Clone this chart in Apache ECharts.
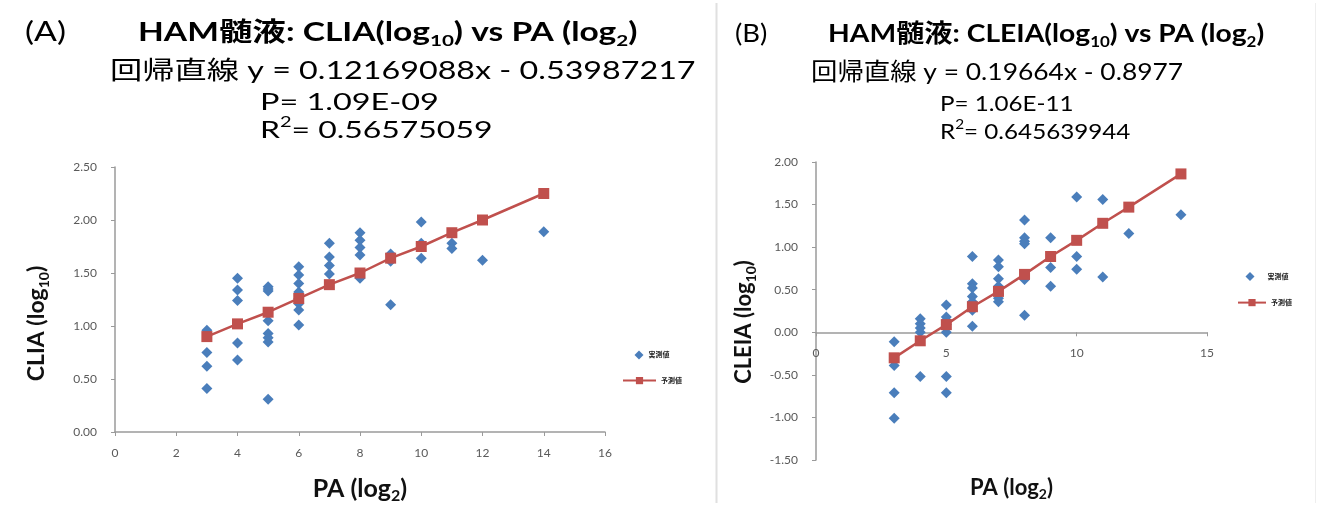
<!DOCTYPE html>
<html><head><meta charset="utf-8">
<script src="https://cdn.jsdelivr.net/npm/echarts@6/dist/echarts.min.js"></script>
<style>html,body{margin:0;padding:0;background:#fff}#c{width:1317px;height:506px}</style>
</head><body><div id="c"></div>
<script>
// ---- Chart A: CLIA (log10) vs PA (log2)
const paA = [3,3,3,3, 4,4,4,4,4, 5,5,5,5,5,5,5,5, 6,6,6,6,6,6,6,6, 7,7,7,7, 8,8,8,8,8, 9,9,9, 10,10,10, 11,11, 12, 14];
const cliaActual = [0.96,0.75,0.62,0.41, 1.45,1.34,1.24,0.84,0.68, 1.37,1.35,1.33,1.05,0.93,0.89,0.85,0.31, 1.56,1.48,1.40,1.32,1.26,1.21,1.15,1.01, 1.78,1.65,1.57,1.49, 1.88,1.81,1.74,1.67,1.45, 1.68,1.61,1.20, 1.98,1.78,1.64, 1.78,1.73, 1.62, 1.89];
const paPredA = [3,4,5,6,7,8,9,10,11,12,14];
const cliaPred = [0.90,1.02,1.13,1.26,1.39,1.50,1.64,1.75,1.88,2.00,2.25];
// ---- Chart B: CLEIA (log10) vs PA (log2)
const paB = [3,3,3,3, 4,4,4,4,4, 5,5,5,5,5,5,5, 6,6,6,6,6,6,6, 7,7,7,7,7,7,7, 8,8,8,8,8,8, 9,9,9, 10,10,10, 11,11, 12, 14];
const cleiaActual = [-0.11,-0.39,-0.71,-1.01, 0.16,0.10,0.05,0.00,-0.52, 0.32,0.18,0.14,0.09,0.00,-0.52,-0.71, 0.89,0.57,0.52,0.42,0.36,0.26,0.07, 0.85,0.77,0.63,0.54,0.45,0.40,0.36, 1.32,1.11,1.07,1.04,0.62,0.20, 1.11,0.76,0.54, 1.59,0.89,0.74, 1.56,0.65, 1.16, 1.38];
const paPredB = [3,4,5,6,7,8,9,10,11,12,14];
const cleiaPred = [-0.30,-0.10,0.09,0.30,0.48,0.68,0.89,1.08,1.28,1.47,1.86];
// ---- labels
const nameActual = '実測値';
const namePred = '予測値';

const FONT = "Lato, 'Noto Sans CJK JP', sans-serif";
const BLUE = '#4A7EBB';
const RED = '#C0504D';
const AXC = '#9A9A9A';
const LBL = '#595959';

const zip = (xs, ys) => xs.map((x, i) => [x, ys[i]]);

const chart = echarts.init(document.getElementById('c'), null, {renderer: 'canvas'});

function valAxis(gi, min, max, interval, fmt, margin, extra) {
  return Object.assign({
    type: 'value', gridIndex: gi, min, max, interval,
    axisLine: {show: true, onZero: false, lineStyle: {color: AXC, width: 1.5}},
    axisTick: {show: true, length: 4, lineStyle: {color: AXC}},
    splitLine: {show: false},
    axisLabel: {color: LBL, fontFamily: FONT, fontSize: 12, formatter: fmt, margin}
  }, extra || {});
}
const f2 = v => v.toFixed(2);
const f0 = v => String(v);

function nameRich(size) {
  return {
    b: {fontFamily: FONT, fontSize: size, fontWeight: 'bold', color: '#111', lineHeight: size * 1.25},
    s: {fontFamily: FONT, fontSize: Math.round(size * 0.62), fontWeight: 'bold', color: '#111', lineHeight: Math.round(size * 0.62), verticalAlign: 'bottom'}
  };
}
function titleRich(size, subSize) {
  return {
    t: {fontFamily: FONT, fontSize: size, fontWeight: 'bold', color: '#000', lineHeight: size * 1.25},
    s: {fontFamily: FONT, fontSize: subSize, fontWeight: 'bold', color: '#000', lineHeight: subSize * 1.05, verticalAlign: 'bottom'}
  };
}
function supRich(size, supSize) {
  return {
    a: {fontFamily: FONT, fontSize: size, color: '#000', lineHeight: size * 1.3},
    p: {fontFamily: FONT, fontSize: supSize, color: '#000', lineHeight: supSize * 1.2, verticalAlign: 'top'}
  };
}
function stx(x, y, text, size, weight, sx, rich) {
  return {type: 'text', x, y, scaleX: sx, z: 10,
    style: {text, fill: '#000', font: (weight || 'normal') + ' ' + size + 'px ' + FONT, verticalAlign: 'middle', align: 'left', rich}};
}

const legText = {fontFamily: FONT, fontSize: 7, color: '#222', fontWeight: 'bold'};

// right panel: the horizontal axis sits at y = 0 of the vertical axis
const gridB = {left: 816, top: 162, width: 391, height: 298};
const bMin = -1.5, bMax = 2;
const zeroOffsetB = -gridB.height * (0 - bMin) / (bMax - bMin);

const option = {
  backgroundColor: '#fff',
  animation: false,
  grid: [
    {left: 115, top: 167, width: 490, height: 265, outerBoundsMode: 'none'},
    Object.assign({outerBoundsMode: 'none'}, gridB)
  ],
  xAxis: [
    valAxis(0, 0, 16, 2, f0, 15, {nameLocation: 'middle', nameGap: 41,
      name: '{b|PA (log}{s|2}{b|)}', nameTextStyle: {rich: nameRich(25)}}),
    valAxis(1, 0, 15, 5, f0, 15, {offset: zeroOffsetB, nameLocation: 'middle', nameGap: 142,
      name: '{b|PA (log}{s|2}{b|)}', nameTextStyle: {rich: nameRich(22)}})
  ],
  yAxis: [
    valAxis(0, 0, 2.5, 0.5, f2, 18, {name: '{b|CLIA (log}{s|10}{b|)}', nameLocation: 'middle', nameGap: 64, nameRotate: 90,
      nameTextStyle: {rich: nameRich(23), padding: [0, 48, 0, 0]}}),
    valAxis(1, bMin, bMax, 0.5, f2, 18, {name: '{b|CLEIA (log}{s|10}{b|)}', nameLocation: 'middle', nameGap: 58, nameRotate: 90,
      nameTextStyle: {rich: nameRich(22), padding: [0, 22, 0, 0]}})
  ],
  legend: [
    {data: [nameActual], left: 634.5, top: 350.5, padding: 0, itemWidth: 9, itemHeight: 9, textStyle: legText, selectedMode: false},
    {data: [namePred], left: 622, top: 377, padding: 0, itemWidth: 33, itemHeight: 9, textStyle: legText, selectedMode: false},
    {data: [nameActual], left: 1245.5, top: 272, padding: 0, itemWidth: 9, itemHeight: 9, textStyle: Object.assign({padding: [0, 0, 0, 8]}, legText), selectedMode: false},
    {data: [namePred], left: 1237, top: 299, padding: 0, itemWidth: 28, itemHeight: 9, textStyle: legText, selectedMode: false}
  ],
  series: [
    {type: 'scatter', name: nameActual, xAxisIndex: 0, yAxisIndex: 0, symbol: 'diamond', symbolSize: 11,
      itemStyle: {color: BLUE, opacity: 1}, data: zip(paA, cliaActual), z: 2},
    {type: 'line', name: namePred, xAxisIndex: 0, yAxisIndex: 0, symbol: 'rect', symbolSize: 11,
      lineStyle: {color: RED, width: 2.5}, itemStyle: {color: RED}, data: zip(paPredA, cliaPred), z: 3},
    {type: 'scatter', name: nameActual, xAxisIndex: 1, yAxisIndex: 1, symbol: 'diamond', symbolSize: 11,
      itemStyle: {color: BLUE, opacity: 1}, data: zip(paB, cleiaActual), z: 2},
    {type: 'line', name: namePred, xAxisIndex: 1, yAxisIndex: 1, symbol: 'rect', symbolSize: 11,
      lineStyle: {color: RED, width: 2.5}, itemStyle: {color: RED}, data: zip(paPredB, cleiaPred), z: 3}
  ],
  graphic: [
    {type: 'line', shape: {x1: 716.5, y1: 3, x2: 716.5, y2: 503}, style: {stroke: '#E0E0E0', lineWidth: 2}},
    {type: 'line', shape: {x1: 1315.5, y1: 3, x2: 1315.5, y2: 503}, style: {stroke: '#EEEEEE', lineWidth: 1}},
    stx(25, 33, '(A)', 26, 'normal', 1.3),
    stx(138, 33, '{t|HAM髄液: CLIA(log}{s|10}{t|) vs PA (log}{s|2}{t|)}', 26, 'bold', 1.29, titleRich(26, 16)),
    stx(110, 71, '回帰直線 y = 0.12169088x - 0.53987217', 25, 'normal', 1.29),
    stx(260, 102, 'P= 1.09E-09', 24, 'normal', 1.35),
    stx(260, 130, '{a|R}{p|2}{a|= 0.56575059}', 24, 'normal', 1.33, supRich(24, 15)),
    stx(735, 34, '(B)', 25, 'normal', 1.1),
    stx(828, 34, '{t|HAM髄液: CLEIA(log}{s|10}{t|) vs PA (log}{s|2}{t|)}', 25, 'bold', 1.13, titleRich(25, 15)),
    stx(811, 72, '回帰直線 y = 0.19664x - 0.8977', 24, 'normal', 1.1),
    stx(940, 104, 'P= 1.06E-11', 22, 'normal', 1.1),
    stx(940, 132, '{a|R}{p|2}{a|= 0.645639944}', 22, 'normal', 1.1, supRich(22, 14))
  ]
};
chart.setOption(option);
</script>
</body></html>
